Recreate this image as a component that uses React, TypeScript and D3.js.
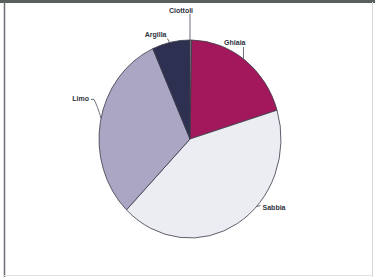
import { useEffect, useRef } from "react";
import * as d3 from "d3";

const categories = ["Ciottoli", "Ghiaia", "Sabbia", "Limo", "Argilla"];
const values = [0.3, 20, 42, 31, 6.7];
const colors = ["#c9c9d3", "#a3185d", "#ececf3", "#aaa6c3", "#2d3050"];

// where each label sits: angle on the rim (deg), text offset from the leader end
const labelLayout = [
  { angle: 0, len: 26, dx: -9, dy: -1, anchor: "middle" },
  { angle: 36, len: 12, dx: 2, dy: -2, anchor: "end" },
  { angle: 133, len: 4, dx: 2, dy: 4, anchor: "start" },
  { angle: 282, len: 19, dx: -2, dy: 2, anchor: "end" },
  { angle: 347, len: 4, dx: -1, dy: -2, anchor: "end" },
];

export default function App() {
  const ref = useRef<SVGSVGElement | null>(null);

  useEffect(() => {
    const width = 375;
    const height = 277;
    const cx = 190;
    const cy = 139;
    const rx = 91;
    const ry = 99;

    const svg = d3.select(ref.current);
    svg.selectAll("*").remove();
    svg.attr("width", width).attr("height", height);

    svg.append("rect").attr("width", width).attr("height", height).attr("fill", "#fff");

    // scanned frame
    svg.append("rect").attr("x", 0).attr("y", 0).attr("width", width).attr("height", 3).attr("fill", "#5a5f5e");
    svg.append("line").attr("x1", 4.5).attr("x2", 4.5).attr("y1", 2).attr("y2", 277)
      .attr("stroke", "#6b6e75").attr("stroke-width", 1.5);
    svg.append("line").attr("x1", 372.5).attr("x2", 372.5).attr("y1", 2).attr("y2", 277)
      .attr("stroke", "#d6d8dc").attr("stroke-width", 1);
    svg.append("line").attr("x1", 4).attr("x2", 373).attr("y1", 275.5).attr("y2", 275.5)
      .attr("stroke", "#e2e3e6").attr("stroke-width", 1);

    const pie = d3.pie<number>().sort(null).value(d => d);
    const arcs = pie(values);
    const arc = d3.arc<d3.PieArcDatum<number>>().innerRadius(0).outerRadius(rx);

    const g = svg.append("g")
      .attr("transform", `translate(${cx},${cy}) scale(1,${ry / rx})`);

    g.selectAll("path")
      .data(arcs)
      .enter().append("path")
      .attr("d", arc)
      .attr("fill", (d, i) => colors[i])
      .attr("stroke", "#3a3a48")
      .attr("stroke-width", 0.8)
      .attr("vector-effect", "non-scaling-stroke");

    // labels with leader lines
    categories.forEach((name, i) => {
      const l = labelLayout[i];
      const a = (l.angle * Math.PI) / 180;
      const x0 = cx + rx * Math.sin(a);
      const y0 = cy - ry * Math.cos(a);
      let x1 = x0;
      let y1 = y0 - l.len;
      let path = `M${x0},${y0}L${x1},${y1}`;
      if (i === 2) {
        x1 = x0 + l.len;
        y1 = y0 - 1;
        path = `M${x0},${y0}L${x1},${y1}`;
      } else if (i === 3) {
        x1 = x0 - 7;
        y1 = y0 - l.len;
        path = `M${x0},${y0}C${x0 - 2},${y0 - 8} ${x1 + 2},${y1 + 4} ${x1},${y1}L${x1 - 3},${y1}`;
        x1 -= 3;
      } else if (i === 4) {
        x1 = x0 - 2;
        y1 = y0 - l.len;
        path = `M${x0},${y0}L${x1},${y1}`;
      }
      svg.append("path").attr("d", path).attr("fill", "none")
        .attr("stroke", "#4a4d5a").attr("stroke-width", 0.8);
      svg.append("text")
        .attr("x", x1 + l.dx)
        .attr("y", y1 + l.dy)
        .attr("text-anchor", l.anchor)
        .attr("font-family", "Liberation Sans, Arial, sans-serif")
        .attr("font-size", 7)
        .attr("font-weight", "bold")
        .attr("fill", "#2f3340")
        .text(name);
    });
  }, []);

  return <svg ref={ref} style={{ position: "absolute", left: 0, top: 0, display: "block" }} />;
}
